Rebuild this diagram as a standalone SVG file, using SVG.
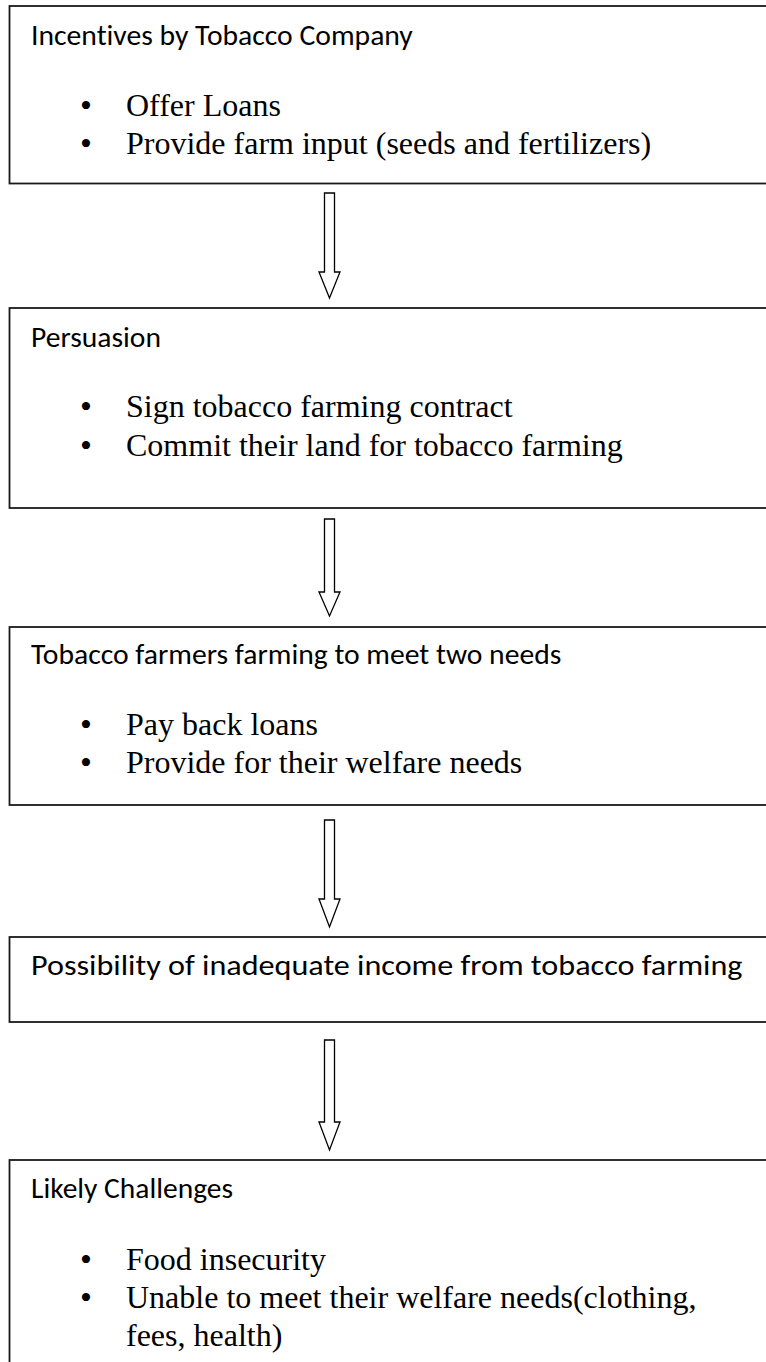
<svg xmlns="http://www.w3.org/2000/svg" width="766" height="1362" viewBox="0 0 766 1362">
<style>
.box{fill:#ffffff;stroke:#1a1a1a;stroke-width:1.8}
.title{font-family:Carlito,Lato,"Open Sans",sans-serif;font-size:28.5px;fill:#000;font-variant-ligatures:none}
.item{font-family:"Liberation Serif","Times New Roman",serif;font-size:32px;fill:#000}
.dot{font-family:"Liberation Serif","Times New Roman",serif;font-size:34px;fill:#000}
.arrow{fill:#ffffff;stroke:#000;stroke-width:1.3;stroke-linejoin:miter}
</style>
<rect x="0" y="0" width="766" height="1362" fill="#ffffff"/>
<g id="connectors">
<path class="arrow" d="M324.5,193 H334.5 V272 H340 L329.5,298 L319,272 H324.5 Z"/>
<path class="arrow" d="M324.5,519 H334.5 V592 H340 L329.5,616 L319,592 H324.5 Z"/>
<path class="arrow" d="M324.5,820 H334.5 V899 H340 L329.5,927 L319,899 H324.5 Z"/>
<path class="arrow" d="M324.5,1040 H334.5 V1122 H340 L329.5,1150 L319,1122 H324.5 Z"/>
</g>
<g id="node-incentives">
<rect class="box" x="9.5" y="6" width="800" height="177.5"/>
<text class="title" x="31" y="45" textLength="381.8" lengthAdjust="spacingAndGlyphs">Incentives by Tobacco Company</text>
<text class="dot" x="80" y="116.5">•</text>
<text class="item" x="126" y="116">Offer Loans</text>
<text class="dot" x="80" y="154.5">•</text>
<text class="item" x="126" y="154">Provide farm input (seeds and fertilizers)</text>
</g>
<g id="node-persuasion">
<rect class="box" x="9.5" y="308" width="800" height="200"/>
<text class="title" x="31" y="347" textLength="130" lengthAdjust="spacingAndGlyphs">Persuasion</text>
<text class="dot" x="80" y="417.5">•</text>
<text class="item" x="126" y="417">Sign tobacco farming contract</text>
<text class="dot" x="80" y="456.5">•</text>
<text class="item" x="126" y="456">Commit their land for tobacco farming</text>
</g>
<g id="node-farmers">
<rect class="box" x="9.5" y="627" width="800" height="178"/>
<text class="title" x="31" y="664" textLength="530.3" lengthAdjust="spacingAndGlyphs">Tobacco farmers farming to meet two needs</text>
<text class="dot" x="80" y="735.5">•</text>
<text class="item" x="126" y="735">Pay back loans</text>
<text class="dot" x="80" y="773.5">•</text>
<text class="item" x="126" y="773">Provide for their welfare needs</text>
</g>
<g id="node-income">
<rect class="box" x="9.5" y="937" width="800" height="85"/>
<text class="title" x="31" y="975" textLength="711.5" lengthAdjust="spacingAndGlyphs">Possibility of inadequate income from tobacco farming</text>
</g>
<g id="node-challenges">
<rect class="box" x="9.5" y="1160" width="800" height="260"/>
<text class="title" x="31" y="1198" textLength="202" lengthAdjust="spacingAndGlyphs">Likely Challenges</text>
<text class="dot" x="80" y="1270.5">•</text>
<text class="item" x="126" y="1270">Food insecurity</text>
<text class="dot" x="80" y="1308.5">•</text>
<text class="item" x="126" y="1308">Unable to meet their welfare needs(clothing,</text>
<text class="item" x="126" y="1346">fees, health)</text>
</g>
</svg>
